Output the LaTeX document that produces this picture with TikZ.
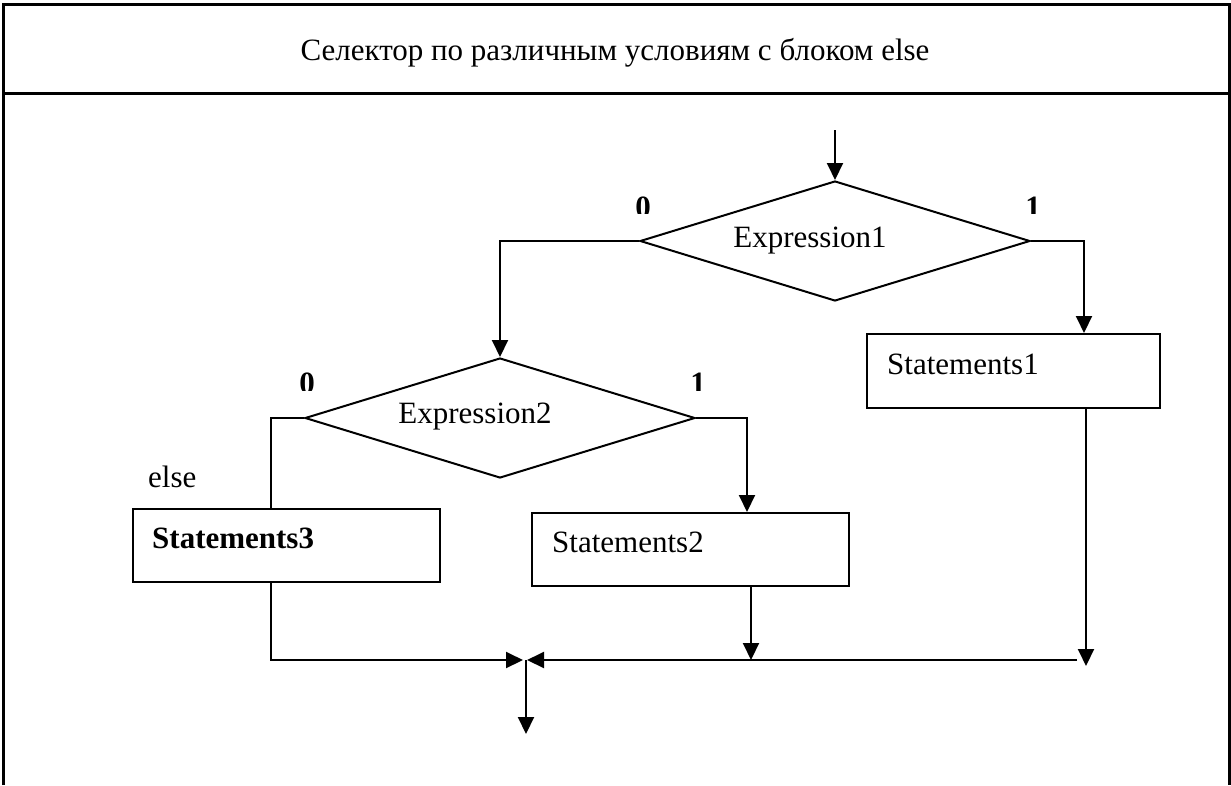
\documentclass[tikz,border=0pt]{standalone}
\usepackage{fontspec}
\setmainfont{Liberation Serif}
\usetikzlibrary{arrows.meta,shapes.geometric}
\begin{document}
\begin{tikzpicture}[x=1pt,y=-1pt,
  line/.style={line width=2pt},
  arr/.style={line width=2pt,-{Triangle[length=17pt,width=16pt]}},
  frame/.style={line width=3pt},
  dia/.style={draw,line width=2pt,diamond,minimum width=390pt,minimum height=120pt,inner sep=0pt},
  box/.style={draw,line width=2pt,anchor=north west,inner sep=0pt},
  txt/.style={font=\fontsize{31}{37}\selectfont,inner sep=0pt},
  lbl/.style={font=\fontsize{31}{37}\selectfont\bfseries,inner sep=0pt,anchor=north}]
\useasboundingbox (0,0) rectangle (1231,785);
% frame
\draw[frame] (3,785) -- (3,4) -- (1229,4) -- (1229,785);
\draw[frame] (3,93) -- (1229,93);
\node[txt,anchor=base] (title) at (615,60) {Селектор по различным условиям с блоком else};
% diamonds
\node[dia] (d1) at (835,241) {};
\node[txt,anchor=base] (e1) at (810,247) {Expression1};
\node[dia] (d2) at (500,418) {};
\node[txt,anchor=base] (e2) at (475,423) {Expression2};
% labels (clipped like the original)
\begin{scope}
\clip (620,190) rectangle (1060,213);
\node[lbl] (l10) at (643,197) {0};
\node[lbl] (l11) at (1033,197) {1};
\end{scope}
\begin{scope}
\clip (285,365) rectangle (720,390);
\node[lbl] (l20) at (307,373) {0};
\node[lbl] (l21) at (698,373) {1};
\end{scope}
% boxes
\node[box,minimum width=293pt,minimum height=74pt] (s1) at (866,333) {};
\node[txt,anchor=base west] (s1t) at (887,374) {Statements1};
\node[box,minimum width=317pt,minimum height=73pt] (s2) at (531,512) {};
\node[txt,anchor=base west] (s2t) at (552,552) {Statements2};
\node[box,minimum width=307pt,minimum height=73pt] (s3) at (132,508) {};
\node[txt,anchor=base west,font=\fontsize{31}{37}\selectfont\bfseries] (s3t) at (152,548) {Statements3};
\node[txt,anchor=base west] (else) at (148,487) {else};
% coordinates
\coordinate (start) at (835,130);
\coordinate (s1in) at (1084,333);
\coordinate (s2in) at (747,512);
\coordinate (s3in) at (271,508);
\coordinate (s1out) at (1086,407);
\coordinate (s1end) at (1086,666);
\coordinate (hr) at (1077,660);
\coordinate (s2out) at (751,585);
\coordinate (s2end) at (751,660);
\coordinate (s3out) at (271,581);
\coordinate (jl) at (523,660);
\coordinate (jr) at (527,660);
\coordinate (jc) at (526,660);
\coordinate (out) at (526,734);
% connectors
\draw[arr] (start) -- (d1.north);
\draw[arr] (d1.west) -| (d2.north);
\draw[arr] (d1.east) -| (s1in);
\draw[arr] (d2.east) -| (s2in);
\draw[line] (d2.west) -| (s3in);
\draw[arr] (s1out) -- (s1end);
\draw[arr] (hr) -- (jr);
\draw[arr] (s2out) -- (s2end);
\draw[arr] (s3out) |- (jl);
\draw[arr] (jc) -- (out);
\end{tikzpicture}
\end{document}
